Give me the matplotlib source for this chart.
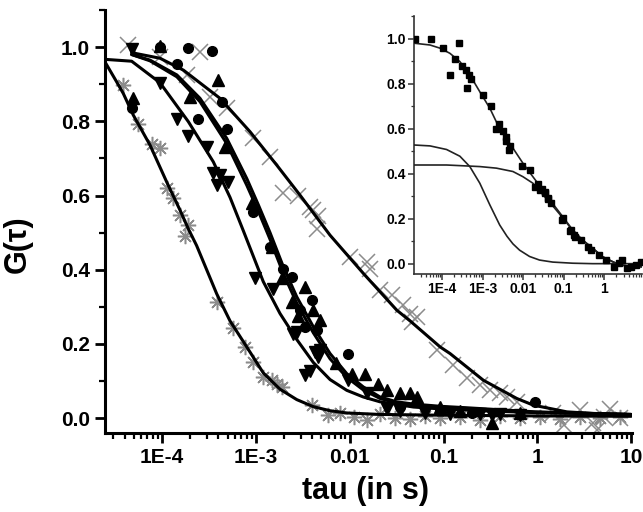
import matplotlib
matplotlib.use("Agg")
import matplotlib.pyplot as plt
from matplotlib.ticker import FixedLocator, FixedFormatter, LogLocator, MultipleLocator, NullFormatter

plt.rcParams['font.family'] = ['Liberation Sans', 'DejaVu Sans']
plt.rcParams['font.weight'] = 'bold'

# ---------------- main panel data ----------------
x_ticks = [1e-4, 1e-3, 1e-2, 1e-1, 1, 10]
x_tick_labels = ["1E-4", "1E-3", "0.01", "0.1", "1", "10"]
y_ticks = [0.0, 0.2, 0.4, 0.6, 0.8, 1.0]
y_tick_labels = ["0.0", "0.2", "0.4", "0.6", "0.8", "1.0"]

# asterisk series (grey)
ast_tau = [3.87e-5, 5.59e-5, 7.77e-5, 9.52e-5, 1.12e-4, 1.32e-4, 1.56e-4, 1.76e-4, 1.91e-4,
           3.83e-4, 5.75e-4, 7.67e-4, 9.40e-4, 1.20e-3, 1.48e-3, 1.67e-3, 1.89e-3, 3.95e-3,
           5.93e-3, 7.90e-3, 1.10e-2, 1.52e-2, 2.11e-2, 3.05e-2, 4.41e-2, 6.37e-2, 9.2e-2,
           0.15, 0.2455, 0.40, 0.656, 1.07, 1.75, 2.86, 4.67, 7.63]
ast_g = [0.897, 0.794, 0.740, 0.727, 0.619, 0.592, 0.547, 0.490, 0.520,
         0.313, 0.242, 0.192, 0.152, 0.111, 0.102, 0.093, 0.084, 0.035,
         0.008, 0.013, 0.004, -0.005, 0.010, 0.000, -0.003, 0.005, 0.000,
         0.003, -0.004, 0.005, 0.000, 0.002, -0.003, 0.004, 0.000, 0.002]

# down triangles
dtri_tau = [4.75e-5, 9.52e-5, 1.44e-4, 1.91e-4, 3.00e-4, 3.52e-4, 4.15e-4, 3.83e-4, 5.09e-4,
            9.81e-4, 1.54e-3, 2.51e-3, 2.73e-3, 3.35e-3, 3.78e-3, 4.28e-3, 4.64e-3, 4.84e-3,
            9.68e-3, 1.52e-2, 2.49e-2, 3.45e-2, 6.37e-2, 0.118, 0.2455, 0.327, 0.40, 0.656]
dtri_g = [0.996, 0.902, 0.806, 0.760, 0.731, 0.662, 0.655, 0.628, 0.637,
          0.379, 0.347, 0.226, 0.233, 0.116, 0.127, 0.179, 0.165, 0.183,
          0.102, 0.067, 0.026, 0.020, 0.015, 0.012, 0.010, 0.008, 0.012, 0.008]

# circles
circ_tau = [4.75e-5, 9.52e-5, 1.44e-4, 1.91e-4, 2.40e-4, 3.39e-4, 4.33e-4, 4.90e-4, 9.40e-4,
            1.42e-3, 1.96e-3, 2.41e-3, 2.96e-3, 3.35e-3, 3.95e-3, 4.46e-3, 9.68e-3,
            3.45e-2, 9.2e-2, 0.20, 0.947]
circ_g = [0.835, 1.001, 0.954, 0.998, 0.805, 0.990, 0.853, 0.778, 0.556,
          0.462, 0.403, 0.381, 0.291, 0.246, 0.318, 0.237, 0.174,
          0.030, 0.022, 0.015, 0.044]

# up triangles
utri_tau = [4.94e-5, 9.52e-5, 1.99e-4, 3.98e-4, 4.69e-4, 9.04e-4, 1.48e-3, 1.89e-3, 2.41e-3,
            2.84e-3, 3.35e-3, 4.10e-3, 4.84e-3, 7.2e-3, 1.05e-2, 1.46e-2, 2.02e-2, 2.49e-2,
            3.45e-2, 4.41e-2, 5.19e-2, 9.2e-2, 0.15, 0.327, 0.656]
utri_g = [0.862, 1.003, 0.866, 0.911, 0.731, 0.579, 0.462, 0.377, 0.313,
          0.275, 0.354, 0.291, 0.264, 0.150, 0.120, 0.120, 0.093, 0.075,
          0.069, 0.067, 0.057, 0.030, 0.020, -0.014, 0.015]

# crosses (grey)
x_tau = [4.38e-5, 9.52e-5, 1.83e-4, 2.54e-4, 3.25e-4, 4.95e-4, 9.40e-4, 1.42e-3, 1.96e-3,
         2.84e-3, 3.78e-3, 4.10e-3, 4.46e-3, 4.64e-3, 1.01e-2, 1.52e-2, 1.65e-2, 2.11e-2,
         2.81e-2, 3.74e-2, 4.41e-2, 4.59e-2, 5.19e-2, 8.49e-2, 0.1275, 0.1772, 0.2455,
         0.314, 0.401, 0.473, 0.605, 1.48, 1.90, 2.86, 3.96, 4.31, 5.07, 5.97, 7.63]
x_g = [1.005, 0.972, 0.925, 0.987, 0.866, 0.835, 0.754, 0.704, 0.607,
       0.600, 0.570, 0.561, 0.511, 0.545, 0.435, 0.421, 0.403, 0.345,
       0.332, 0.305, 0.282, 0.260, 0.273, 0.183, 0.143, 0.107, 0.089,
       0.075, 0.067, 0.057, 0.044, 0.013, -0.019, 0.022, -0.014, -0.032, 0.004, 0.025, 0.000]

# fitted curves
fitA_tau = [2.47e-5, 3.31e-5, 3.87e-5, 4.94e-5, 7.45e-5, 1.12e-4, 1.56e-4, 1.91e-4, 2.34e-4,
            3.83e-4, 5.31e-4, 8.0e-4, 1.20e-3, 1.81e-3, 2.73e-3, 4.10e-3, 6.18e-3, 9.31e-3,
            2.11e-2, 9.2e-2, 0.947, 10.0]
fitA_g = [0.960, 0.905, 0.875, 0.817, 0.736, 0.637, 0.560, 0.510, 0.465,
          0.335, 0.262, 0.192, 0.122, 0.078, 0.050, 0.031, 0.020, 0.014,
          0.010, 0.008, 0.006, 0.005]

fitB_tau = [2.47e-5, 4.75e-5, 9.52e-5, 1.91e-4, 3.52e-4, 5.31e-4, 7.36e-4, 1.20e-3, 1.81e-3,
            2.73e-3, 4.10e-3, 6.18e-3, 9.31e-3, 1.40e-2, 2.11e-2, 4.78e-2, 9.2e-2, 0.2455,
            0.947, 10.0]
fitB_g = [0.967, 0.962, 0.904, 0.799, 0.691, 0.595, 0.505, 0.368, 0.282,
          0.212, 0.150, 0.104, 0.075, 0.057, 0.044, 0.030, 0.025, 0.020,
          0.015, 0.010]

fitC_tau = [4.75e-5, 7.45e-5, 1.44e-4, 2.54e-4, 4.90e-4, 8.0e-4, 1.063e-3, 1.417e-3, 1.964e-3,
            2.729e-3, 4.102e-3, 6.18e-3, 9.31e-3, 1.40e-2, 2.109e-2, 3.177e-2, 4.775e-2,
            9.2e-2, 0.1772, 0.947, 10.0]
fitC_g = [0.980, 0.965, 0.925, 0.862, 0.754, 0.646, 0.575, 0.500, 0.408,
          0.327, 0.246, 0.174, 0.120, 0.084, 0.057, 0.044, 0.038,
          0.032, 0.028, 0.017, 0.010]

fitD_tau = fitC_tau
fitD_g = [0.980, 0.963, 0.920, 0.853, 0.740, 0.628, 0.558, 0.482, 0.390,
          0.310, 0.230, 0.160, 0.110, 0.076, 0.053, 0.041, 0.035,
          0.030, 0.026, 0.016, 0.010]

fitE_tau = [4.75e-5, 9.52e-5, 1.69e-4, 4.15e-4, 8.67e-4, 1.67e-3, 2.958e-3, 6.18e-3, 1.40e-2,
            3.177e-2, 4.406e-2, 9.2e-2, 0.1176, 0.2663, 0.6046, 0.908, 2.063, 7.63, 10.0]
fitE_g = [0.985, 0.970, 0.938, 0.862, 0.772, 0.682, 0.601, 0.493, 0.390,
          0.291, 0.262, 0.192, 0.174, 0.102, 0.053, 0.035, 0.017, 0.008, 0.008]

# ---------------- inset data ----------------
in_x_ticks = [1e-4, 1e-3, 1e-2, 1e-1, 1]
in_x_tick_labels = ["1E-4", "1E-3", "0.01", "0.1", "1"]

sq_tau = [2.19e-5, 5.25e-5, 1.05e-4, 2.63e-4, 1.58e-4, 2.09e-4, 3.16e-4, 3.89e-4, 4.17e-4,
          4.68e-4, 5.25e-4, 1.05e-3, 1.58e-3, 2.09e-3, 2.51e-3, 3.16e-3, 3.89e-3, 3.80e-3,
          4.79e-3, 4.57e-3, 9.55e-3, 1.48e-2, 1.91e-2, 2.34e-2, 2.54e-2, 2.95e-2, 3.37e-2,
          3.55e-2, 4.06e-2, 4.17e-2, 4.79e-2, 9.12e-2, 9.48e-2, 0.145, 0.152, 0.184,
          0.191, 0.268, 0.389, 0.472, 0.753, 1.10, 1.76, 2.33, 2.81, 3.73, 4.52, 6.0, 7.94]
sq_g = [1.000, 1.000, 0.960, 0.980, 0.840, 0.910, 0.880, 0.860, 0.780,
        0.840, 0.820, 0.750, 0.700, 0.600, 0.620, 0.590, 0.565, 0.547,
        0.525, 0.505, 0.436, 0.416, 0.343, 0.354, 0.328, 0.332, 0.313,
        0.317, 0.291, 0.287, 0.272, 0.195, 0.202, 0.147, 0.150, 0.128,
        0.117, 0.105, 0.076, 0.061, 0.039, 0.016, -0.013, 0.002, 0.016, -0.020, -0.013, -0.006, 0.009]

in_fit_tau = [2.05e-5, 5.08e-5, 8.93e-5, 1.57e-4, 2.77e-4, 4.86e-4, 8.57e-4, 1.51e-3, 2.65e-3,
              5.62e-3, 9.89e-3, 1.74e-2, 3.06e-2, 5.38e-2, 9.48e-2, 0.167, 0.294, 0.516,
              0.908, 1.60, 2.33, 4.10, 8.5]
in_fit_g = [0.981, 0.973, 0.959, 0.936, 0.899, 0.840, 0.765, 0.692, 0.600,
            0.514, 0.447, 0.387, 0.328, 0.267, 0.209, 0.150, 0.105, 0.069,
            0.031, 0.009, -0.004, -0.012, -0.014]

in_c1_tau = [2.05e-5, 5.08e-5, 1.30e-4, 2.77e-4, 4.86e-4, 8.57e-4, 1.51e-3, 2.65e-3, 4.0e-3,
             5.62e-3, 8.2e-3, 1.44e-2, 2.54e-2, 5.38e-2, 0.167, 0.516, 8.5]
in_c1_g = [0.528, 0.524, 0.508, 0.478, 0.432, 0.358, 0.262, 0.172, 0.122,
           0.088, 0.060, 0.032, 0.016, 0.007, 0.002, 0.000, 0.000]

in_c2_tau = [2.05e-5, 1.30e-4, 8.57e-4, 2.20e-3, 5.62e-3, 9.89e-3, 1.74e-2, 3.06e-2, 5.38e-2,
             9.48e-2, 0.167, 0.294, 0.516, 0.908, 1.60, 2.33, 4.10, 8.5]
in_c2_g = [0.439, 0.439, 0.432, 0.425, 0.410, 0.387, 0.358, 0.308, 0.257,
           0.204, 0.147, 0.104, 0.069, 0.031, 0.009, -0.004, -0.012, -0.014]

# ---------------- figure ----------------
W, H = 643, 512
fig = plt.figure(figsize=(W / 100, H / 100), dpi=100)
ax = fig.add_axes([105 / W, 1 - 433 / H, (632 - 105) / W, (433 - 10) / H])

grey = '#8c8c8c'
ax.plot(ast_tau, ast_g, linestyle='none', marker=(8, 2, 0), ms=11, mew=1.1, color=grey, zorder=2)
ax.plot(x_tau, x_g, linestyle='none', marker='x', ms=11, mew=1.1, color=grey, zorder=2)
ax.plot(circ_tau, circ_g, linestyle='none', marker='o', ms=7, color='black', zorder=4)
ax.plot(utri_tau, utri_g, linestyle='none', marker='^', ms=8, color='black', zorder=4)
ax.plot(dtri_tau, dtri_g, linestyle='none', marker='v', ms=8, color='black', zorder=4)

for t, g in [(fitA_tau, fitA_g), (fitB_tau, fitB_g), (fitC_tau, fitC_g),
             (fitD_tau, fitD_g), (fitE_tau, fitE_g)]:
    ax.plot(t, g, color='black', lw=2.2, zorder=3, solid_capstyle='round', solid_joinstyle='round')

ax.set_xscale('log')
ax.set_xlim(2.47e-5, 10.2)
ax.set_ylim(-0.04, 1.10)
for s in ['top', 'right']:
    ax.spines[s].set_visible(False)
for s in ['left', 'bottom']:
    ax.spines[s].set_linewidth(2.2)
ax.xaxis.set_major_locator(FixedLocator(x_ticks))
ax.xaxis.set_major_formatter(FixedFormatter(x_tick_labels))
ax.xaxis.set_minor_locator(LogLocator(base=10, subs=range(2, 10), numticks=20))
ax.xaxis.set_minor_formatter(NullFormatter())
ax.yaxis.set_major_locator(FixedLocator(y_ticks))
ax.yaxis.set_major_formatter(FixedFormatter(y_tick_labels))
ax.yaxis.set_minor_locator(MultipleLocator(0.1))
ax.tick_params(which='major', direction='out', length=7, width=2, labelsize=15, pad=4)
ax.tick_params(which='minor', direction='out', length=4, width=1.6)
for lab in ax.get_xticklabels() + ax.get_yticklabels():
    lab.set_fontweight('bold')

ax.set_xlabel('tau (in s)', fontsize=22, fontweight='bold')
ax.set_ylabel('G(τ)', fontsize=22, fontweight='bold')
ax.xaxis.set_label_coords((366 - 105) / 527, (433 - 476) / 423)
ax.yaxis.set_label_coords((33 - 105) / 527, (433 - 244) / 423)

# ---------------- inset ----------------
ia = fig.add_axes([414 / W, 1 - 274 / H, (642 - 414) / W, (274 - 16) / H])
ia.set_facecolor('white')
ia.plot(in_fit_tau, in_fit_g, color='#222222', lw=1.2, zorder=3)
ia.plot(in_c1_tau, in_c1_g, color='#222222', lw=1.2, zorder=3)
ia.plot(in_c2_tau, in_c2_g, color='#222222', lw=1.2, zorder=3)
ia.plot(sq_tau, sq_g, linestyle='none', marker='s', ms=4, color='black', zorder=4)
ia.set_xscale('log')
ia.set_xlim(2.05e-5, 8.5)
ia.set_ylim(-0.046, 1.102)
for s in ['top', 'right']:
    ia.spines[s].set_visible(False)
for s in ['left', 'bottom']:
    ia.spines[s].set_linewidth(1.2)
    ia.spines[s].set_color('#333333')
ia.xaxis.set_major_locator(FixedLocator(in_x_ticks))
ia.xaxis.set_major_formatter(FixedFormatter(in_x_tick_labels))
ia.xaxis.set_minor_locator(LogLocator(base=10, subs=range(2, 10), numticks=20))
ia.xaxis.set_minor_formatter(NullFormatter())
ia.yaxis.set_major_locator(FixedLocator(y_ticks))
ia.yaxis.set_major_formatter(FixedFormatter(y_tick_labels))
ia.yaxis.set_minor_locator(MultipleLocator(0.1))
ia.tick_params(which='major', direction='out', length=4, width=1.1, labelsize=10, pad=2, color='#333333')
ia.tick_params(which='minor', direction='out', length=2.2, width=0.9, color='#333333')
for lab in ia.get_xticklabels() + ia.get_yticklabels():
    lab.set_fontweight('bold')

fig.savefig('out.png', dpi=100, facecolor='white')
